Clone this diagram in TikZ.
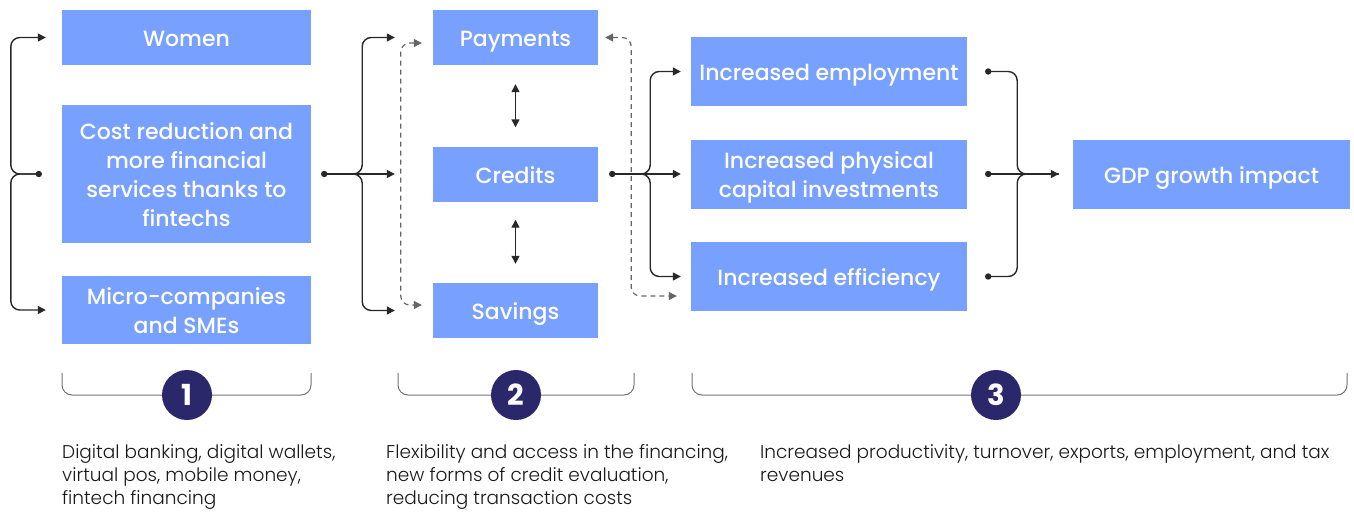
\documentclass[tikz,border=0pt]{standalone}
\usepackage{fontspec}
\setmainfont{Poppins}
\newfontfamily\boxfont{Poppins Medium}
\newfontfamily\notefont{Poppins Light}
\usepackage{tikz}
\usetikzlibrary{arrows.meta}
\definecolor{boxblue}{RGB}{120,160,254}
\definecolor{numblue}{RGB}{42,40,106}
\definecolor{linegray}{RGB}{40,40,40}
\newcommand{\boxlines}[1]{\raisebox{-3.4pt}[\height][\depth]{\begin{tabular}{@{}c@{}}#1\end{tabular}}}
\tikzset{
  box node/.style={fill=boxblue,text=white,inner sep=0pt,font=\boxfont\fontsize{22}{29}\selectfont},
  num node/.style={circle,fill=numblue,text=white,minimum size=50pt,inner sep=0pt,font=\bfseries\fontsize{29}{29}\selectfont},
  note/.style={anchor=north west,inner sep=0pt,align=left,text=black!90,font=\notefont\fontsize{18.5}{23}\selectfont},
  link/.style={draw=linegray,line width=1.4pt,rounded corners=9pt},
  tip/.style={-{Triangle[length=8pt,width=8pt]}},
  dash link/.style={draw=black!60,line width=1.2pt,dash pattern=on 5pt off 4pt,rounded corners=9pt,
    {Triangle[length=8pt,width=8pt]}-{Triangle[length=8pt,width=8pt]}},
  bracket/.style={draw=black!55,line width=1pt,rounded corners=10pt}
}
\begin{document}
\begin{tikzpicture}[x=1pt,y=-1pt]
  \useasboundingbox (0,0) rectangle (1354,512);
  % column 1
  \node[box node,minimum width=249pt,minimum height=55pt] (women) at (186.5,37.5) {\boxlines{Women}};
  \node[box node,minimum width=249pt,minimum height=138pt] (cost) at (186.5,174) {\boxlines{Cost reduction and\\more financial\\services thanks to\\fintechs}};
  \node[box node,minimum width=249pt,minimum height=68pt] (micro) at (186.5,310) {\boxlines{Micro-companies\\and SMEs}};
  % column 2
  \node[box node,minimum width=165pt,minimum height=55pt] (pay) at (515.5,37.5) {\boxlines{Payments}};
  \node[box node,minimum width=165pt,minimum height=55pt] (cred) at (515.5,174) {\boxlines{Credits}};
  \node[box node,minimum width=165pt,minimum height=55pt] (sav) at (515.5,310.5) {\boxlines{Savings}};
  % column 3
  \node[box node,minimum width=276pt,minimum height=69pt] (emp) at (829,71.5) {\boxlines{Increased employment}};
  \node[box node,minimum width=276pt,minimum height=69pt] (phys) at (829,174) {\boxlines{Increased physical\\capital investments}};
  \node[box node,minimum width=276pt,minimum height=69pt] (eff) at (829,276.5) {\boxlines{Increased efficiency}};
  \node[box node,minimum width=277pt,minimum height=69pt] (gdp) at (1211.5,174) {\boxlines{GDP growth impact}};

  % dots
  \coordinate (d1) at ([xshift=-23pt]cost.west);
  \coordinate (d2) at ([xshift=13pt]cost.east);
  \coordinate (d3) at ([xshift=14pt]cred.east);
  \coordinate (e1) at ([xshift=21pt]emp.east);
  \coordinate (e2) at ([xshift=21pt]phys.east);
  \coordinate (e3) at ([xshift=21pt]eff.east);
  \coordinate (g) at ([xshift=-14pt]gdp.west);

  % braces
  \draw[link,tip] (d1) -- ++(-28,0) |- ([xshift=-16pt]women.west);
  \draw[link,tip] (d1) -- ++(-28,0) |- ([xshift=-16pt]micro.west);
  \draw[link,tip] (d2) -- ++(38,0) |- ([xshift=-38pt]pay.west);
  \draw[link,tip] (d2) -- ([xshift=-38pt]cred.west);
  \draw[link,tip] (d2) -- ++(38,0) |- ([xshift=-38pt]sav.west);
  \draw[link,tip] (d3) -- ++(38,0) |- ([xshift=-10pt]emp.west);
  \draw[link,tip] (d3) -- ([xshift=-10pt]phys.west);
  \draw[link,tip] (d3) -- ++(38,0) |- ([xshift=-10pt]eff.west);
  \draw[link] (e1) -- ++(29,0) |- (g);
  \draw[link] (e3) -- ++(29,0) |- (g);
  \draw[link,tip] (e2) -- (g);
  \foreach \d in {d1,d2,d3,e1,e2,e3}
    \fill[linegray] (\d) circle (3.2pt);

  % links between payments, credits, savings
  \draw[link,{Triangle[length=8pt,width=8pt]}-{Triangle[length=8pt,width=8pt]},shorten <=19pt,shorten >=19pt] (pay) -- (cred);
  \draw[link,{Triangle[length=8pt,width=8pt]}-{Triangle[length=8pt,width=8pt]},shorten <=18pt,shorten >=19pt] (cred) -- (sav);

  % dashed loops
  \draw[dash link] ([xshift=-11pt,yshift=-5.5pt]pay.west) -- ++(-21,0) |- ([xshift=-11pt,yshift=5.5pt]sav.west);
  \draw[dash link] ([xshift=7pt]pay.east) -- ++(26,0) |- ([xshift=-14pt,yshift=-19.5pt]eff.west);

  % numbered brackets
  \node[num node] (n1) at (187,395) {1};
  \node[num node] (n2) at (516,395) {2};
  \node[num node] (n3) at (996,395) {3};
  \draw[bracket] (62,373) |- (n1.west);
  \draw[bracket] (n1.east) -| (311,373);
  \draw[bracket] (398,373) |- (n2.west);
  \draw[bracket] (n2.east) -| (634,373);
  \draw[bracket] (692,373) |- (n3.west);
  \draw[bracket] (n3.east) -| (1347,373);

  % notes
  \node[note] (t1) at (62,444.5) {Digital banking, digital wallets,\\virtual pos, mobile money,\\fintech financing};
  \node[note] (t2) at (386,444.5) {Flexibility and access in the financing,\\new forms of credit evaluation,\\reducing transaction costs};
  \node[note] (t3) at (760,444.5) {Increased productivity, turnover, exports, employment, and tax\\revenues};
\end{tikzpicture}
\end{document}
